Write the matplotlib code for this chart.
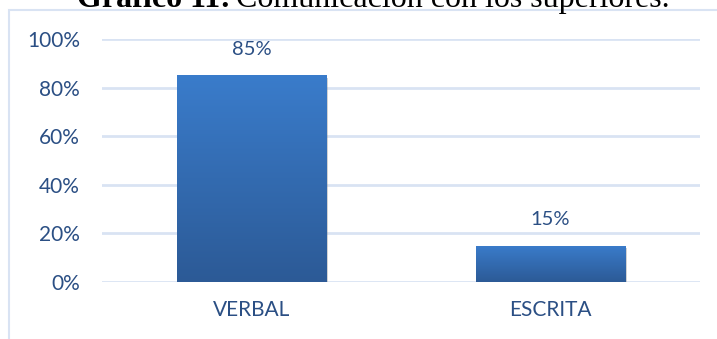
import numpy as np
import matplotlib
matplotlib.use("Agg")
import matplotlib.pyplot as plt
from matplotlib.patches import Rectangle
import matplotlib.patheffects as pe

# data
categories = ["VERBAL", "ESCRITA"]
values = [0.85, 0.15]
labels = ["85%", "15%"]
yticks = [0, 0.2, 0.4, 0.6, 0.8, 1.0]
ytick_labels = ["0%", "20%", "40%", "60%", "80%", "100%"]

text_color = "#2b4f84"
grid_color = "#d9e3f3"

fig = plt.figure(figsize=(7.17, 3.39), dpi=100)
W, H = 717, 339

# outer chart frame (light blue border, runs off the right/bottom)
fig.patches.append(Rectangle((8.5 / W, -0.1), 1.2, 1 - 10 / H + 0.1,
                             transform=fig.transFigure, fill=False,
                             edgecolor=grid_color, linewidth=1.5))

ax = fig.add_axes([102 / W, 57 / H, 598 / W, 243 / H])
x = np.arange(len(categories))
bars = ax.bar(x, values, width=0.5, color="#3470bb", zorder=3,
              path_effects=[pe.SimplePatchShadow(offset=(1.5, -1.5), shadow_rgbFace="gray", alpha=0.35),
                            pe.Normal()])

# vertical gradient inside each bar
grad = np.linspace(0, 1, 256).reshape(-1, 1)
top = np.array([0x3a, 0x7c, 0xcb]) / 255
bot = np.array([0x2c, 0x5a, 0x96]) / 255
img = top + (bot - top) * grad[..., None]
for b in bars:
    bx, by = b.get_x(), b.get_y()
    im = ax.imshow(img, extent=[bx, bx + b.get_width(), by, by + b.get_height()],
                   origin="upper", aspect="auto", zorder=4)
    im.set_clip_path(b)

for xi, v, lab in zip(x, values, labels):
    ax.annotate(lab, (xi, v), xytext=(0, 19), textcoords="offset points",
                ha="center", va="center", color=text_color, fontsize=14.5, family="Lato")

ax.set_xlim(-0.5, 1.5)
ax.set_ylim(0, 1.0)
ax.set_yticks(yticks)
ax.set_yticklabels(ytick_labels)
ax.set_xticks(x)
ax.set_xticklabels(categories)
ax.tick_params(axis="y", length=0, pad=16, labelsize=15, labelcolor=text_color)
ax.tick_params(axis="x", length=0, pad=13, labelsize=15, labelcolor=text_color)
for t in ax.get_xticklabels() + ax.get_yticklabels():
    t.set_family("Lato")
ax.grid(axis="y", color=grid_color, linewidth=2, zorder=0)
for s in ax.spines.values():
    s.set_visible(False)

# title, partly cut off at the top edge as in the source
fig.canvas.draw()
r = fig.canvas.get_renderer()
t1 = fig.text(77 / W, 1 - 7 / H, "Gráfico 11:", family="Liberation Serif",
              fontweight="bold", fontsize=23, va="baseline", ha="left")
bb = t1.get_window_extent(r)
fig.text(bb.x1 / W + 0.008, 1 - 7 / H, "Comunicación con los superiores.",
         family="Liberation Serif", fontsize=23, va="baseline", ha="left")

fig.savefig("out.png", dpi=100)
